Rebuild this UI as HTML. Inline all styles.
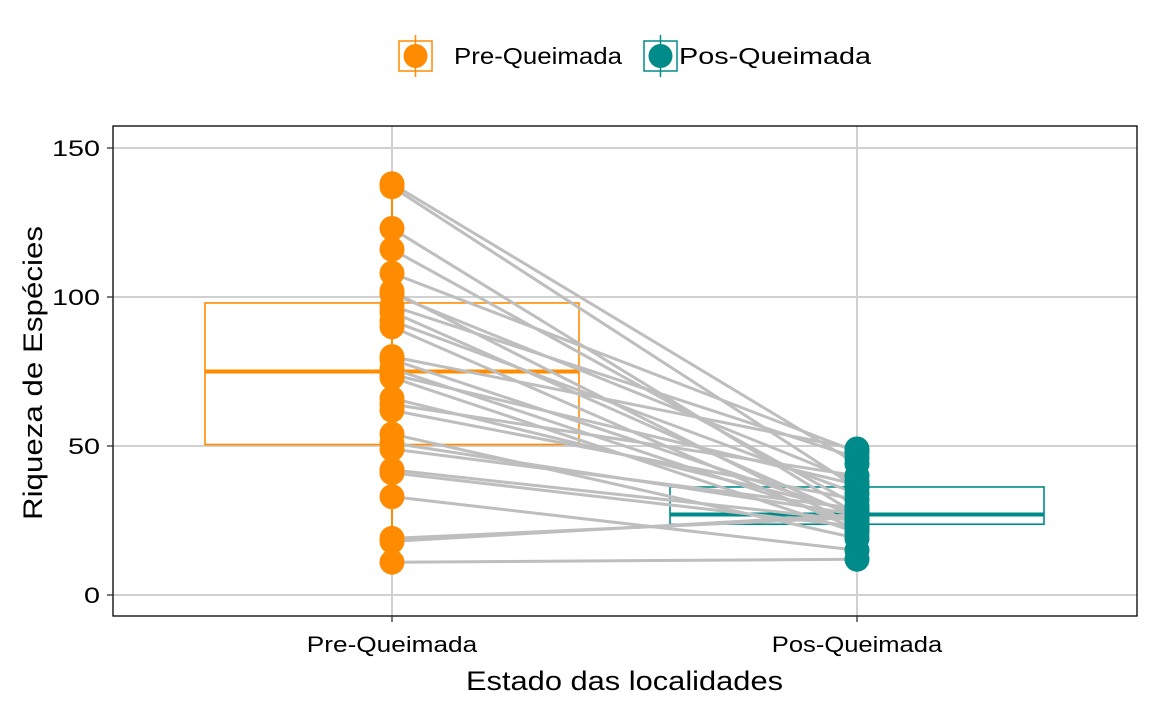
<!DOCTYPE html>
<html><head><meta charset="utf-8"><style>
body{margin:0;background:#fff;}
svg text{font-family:"Liberation Sans",Arial,sans-serif;}
</style></head><body>
<svg id="chart" width="1152" height="711" xmlns="http://www.w3.org/2000/svg">
<g id="legend">
 <g>
  <rect x="399" y="41" width="33" height="30" fill="#fff" stroke="#FF8C00" stroke-width="1.5"/>
  <line x1="415.5" y1="35" x2="415.5" y2="77" stroke="#FF8C00" stroke-width="1.5"/>
  <circle cx="415.5" cy="56" r="12" fill="#FF8C00"/>
  <text x="454" y="64" font-size="23" textLength="168" lengthAdjust="spacingAndGlyphs" fill="#000">Pre-Queimada</text>
 </g>
 <g>
  <rect x="644" y="41" width="33" height="30" fill="#fff" stroke="#008B8B" stroke-width="1.5"/>
  <line x1="660.5" y1="35" x2="660.5" y2="77" stroke="#008B8B" stroke-width="1.5"/>
  <circle cx="660.5" cy="56" r="12" fill="#008B8B"/>
  <text x="679" y="64" font-size="23" textLength="192" lengthAdjust="spacingAndGlyphs" fill="#000">Pos-Queimada</text>
 </g>
</g>
<g id="grid"></g>
<g id="boxes"></g>
<g id="lines"></g>
<g id="points"></g>
<rect x="113" y="126" width="1024" height="490" fill="none" stroke="#000" stroke-width="1.3"/>
<g id="axes"></g>
<text x="466" y="690" font-size="27" textLength="317" lengthAdjust="spacingAndGlyphs">Estado das localidades</text>
<text transform="translate(42,520) rotate(-90)" font-size="27" textLength="294" lengthAdjust="spacingAndGlyphs">Riqueza de Espécies</text>
</svg>
<script>
const categories = ["Pre-Queimada","Pos-Queimada"];
const colors = ["#FF8C00","#008B8B"];
const preValues = [138,137,123,116,108,102,101,97,95,92,90,80,79,76,74,73,66,64,62,54,51,49,42,41,33,19,18,11];
const posValues = [44,36,27,30,48,23,38,46,26,34,22,49,27,24,37,21,28,40,32,19,27,29,25,23,15,26,27,12];
const yTicks = [0,50,100,150];

const NS="http://www.w3.org/2000/svg";
function y(v){return 595 - v*2.98;}
function x(i){return 392 + i*465;}
function mk(parent,tag,attrs){const e=document.createElementNS(NS,tag);for(const k in attrs)e.setAttribute(k,attrs[k]);document.getElementById(parent).appendChild(e);return e;}
function q(arr,p){const s=[...arr].sort((a,b)=>a-b);const pos=p*(s.length-1);const lo=Math.floor(pos);const f=pos-lo;return s[lo]+(s[Math.min(lo+1,s.length-1)]-s[lo])*f;}

yTicks.forEach(t=>{
 const g=mk('grid','line',{x1:113,x2:1137,y1:y(t),y2:y(t),stroke:'#d0d0d0','stroke-width':2});
 
 
 const tk=mk('axes','line',{x1:107,x2:113,y1:y(t),y2:y(t),stroke:'#333','stroke-width':1.3});
 
 
 const s=String(t);
 const lb=mk('axes','text',{x:100-s.length*16,y:y(t)+8,'font-size':22,textLength:s.length*16,lengthAdjust:'spacingAndGlyphs',fill:'#000'});
 lb.textContent=s;
 
 
});
categories.forEach((c,i)=>{
 const g=mk('grid','line',{x1:x(i),x2:x(i),y1:126,y2:616,stroke:'#d0d0d0','stroke-width':2});
 
 
 const tk=mk('axes','line',{x1:x(i),x2:x(i),y1:616,y2:622,stroke:'#333','stroke-width':1.3});
 
 
 const w=c.length*14.2;
 const lb=mk('axes','text',{x:x(i)-w/2,y:652,'font-size':22,textLength:w,lengthAdjust:'spacingAndGlyphs',fill:'#000'});
 lb.textContent=c;
 
 
});
[preValues,posValues].forEach((vals,i)=>{
 const q1=q(vals,.25),md=q(vals,.5),q3=q(vals,.75);
 const r=mk('boxes','rect',{x:x(i)-187,y:y(q3),width:374,height:y(q1)-y(q3),fill:'none',stroke:colors[i],'stroke-width':1.6});
 
 
 const m=mk('boxes','line',{x1:x(i)-187,x2:x(i)+187,y1:y(md),y2:y(md),stroke:colors[i],'stroke-width':4});
 
 
 const w=mk('boxes','line',{x1:x(i),x2:x(i),y1:y(Math.min(...vals)),y2:y(Math.max(...vals)),stroke:colors[i],'stroke-width':2});
 
 
});
preValues.forEach((v,k)=>{
 const l=mk('lines','line',{x1:x(0),y1:y(v),x2:x(1),y2:y(posValues[k]),stroke:'#bebebe','stroke-width':3});
 
 
});
[preValues,posValues].forEach((vals,i)=>{
 vals.forEach((v,k)=>{
  const c=mk('points','circle',{cx:x(i),cy:y(v),r:12.5,fill:colors[i]});
  
  
 });
});
</script>
</body></html>
